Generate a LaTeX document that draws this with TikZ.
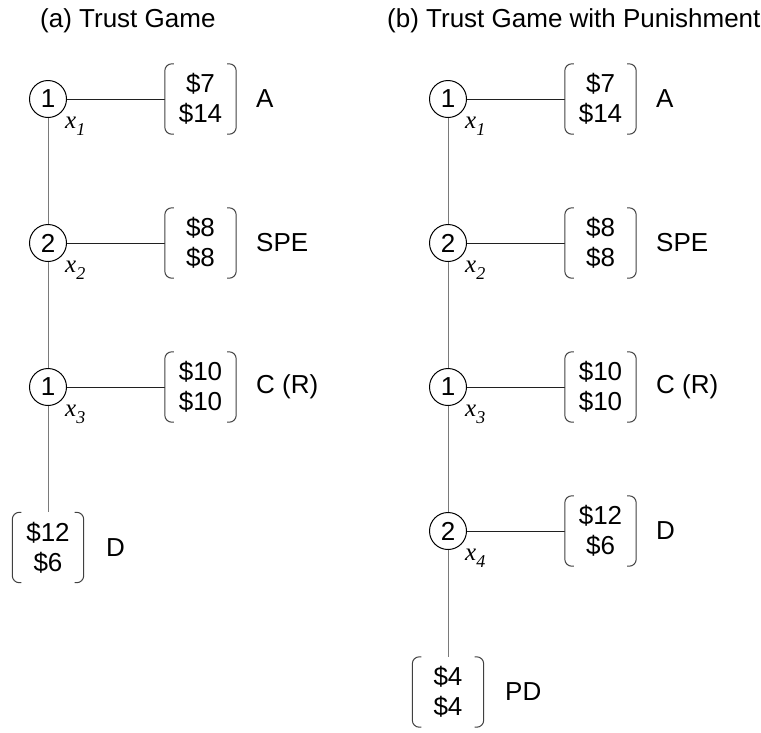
\documentclass[tikz,border=0pt]{standalone}
\usepackage{fontspec}
\setmainfont{Liberation Sans}
\newfontfamily\tnrfont{Liberation Serif}
\usetikzlibrary{calc}
\definecolor{vlinec}{HTML}{7A7A7A}
\definecolor{hlinec}{HTML}{202020}
\definecolor{brackc}{HTML}{404040}
\newcommand{\bigfont}{\fontsize{26}{30}\selectfont}
\newcommand{\xlab}[1]{{\tnrfont\itshape\fontsize{25}{25}\selectfont x\raisebox{-7pt}{\fontsize{18}{18}\selectfont #1}}}
\tikzset{
  dec/.style={circle, draw=black, line width=1pt, minimum size=37pt, inner sep=0pt, font=\bigfont},
  payoff/.style={rectangle, minimum width=71pt, minimum height=70pt, inner sep=0pt, align=center, font=\bigfont},
  outlab/.style={anchor=west, inner sep=0pt, font=\bigfont},
  xl/.style={anchor=base west, inner sep=0pt},
  vline/.style={draw=vlinec, line width=1pt},
  hline/.style={draw=hlinec, line width=1pt},
  brack/.style={draw=brackc, line width=1pt, rounded corners=7pt},
  title/.style={anchor=west, inner sep=0pt, font=\bigfont}
}
\begin{document}
\begin{tikzpicture}[x=1pt, y=-1pt]
\useasboundingbox (0,0) rectangle (761,732);
% titles
\node[title] (ta) at (40,21) {(a) Trust Game};
\node[title] (tb) at (387,21) {(b) Trust Game with Punishment};
% ---- left tree
\node[dec] (a1) at (48,99) {1};
\node[dec] (a2) at (48,243) {2};
\node[dec] (a3) at (48,387) {1};
\node[payoff] (pa1) at (200.5,99) {\$7\\\$14};
\node[payoff] (pa2) at (200.5,243) {\$8\\\$8};
\node[payoff] (pa3) at (200.5,387) {\$10\\\$10};
\node[payoff] (pa4) at (48,547.5) {\$12\\\$6};
\node[outlab] (la1) at (256,99) {A};
\node[outlab] (la2) at (256,243) {SPE};
\node[outlab] (la3) at (256,387) {C (R)};
\node[outlab] (la4) at (106,547.5) {D};
\node[xl] (xa1) at (65,128) {\xlab{1}};
\node[xl] (xa2) at (65,272) {\xlab{2}};
\node[xl] (xa3) at (65,416) {\xlab{3}};
\draw[vline] (a1) -- (a2);
\draw[vline] (a2) -- (a3);
\draw[vline] (a3) -- (pa4.north);
\draw[hline] (a1) -- (pa1.west);
\draw[hline] (a2) -- (pa2.west);
\draw[hline] (a3) -- (pa3.west);
% ---- right tree
\node[dec] (b1) at (448,99) {1};
\node[dec] (b2) at (448,243) {2};
\node[dec] (b3) at (448,387) {1};
\node[dec] (b4) at (448,531) {2};
\node[payoff] (pb1) at (600.5,99) {\$7\\\$14};
\node[payoff] (pb2) at (600.5,243) {\$8\\\$8};
\node[payoff] (pb3) at (600.5,387) {\$10\\\$10};
\node[payoff] (pb4) at (600.5,531) {\$12\\\$6};
\node[payoff] (pb5) at (448,692) {\$4\\\$4};
\node[outlab] (lb1) at (656,99) {A};
\node[outlab] (lb2) at (656,243) {SPE};
\node[outlab] (lb3) at (656,387) {C (R)};
\node[outlab] (lb4) at (656,531) {D};
\node[outlab] (lb5) at (505,692) {PD};
\node[xl] (xb1) at (465,128) {\xlab{1}};
\node[xl] (xb2) at (465,272) {\xlab{2}};
\node[xl] (xb3) at (465,416) {\xlab{3}};
\node[xl] (xb4) at (465,560) {\xlab{4}};
\draw[vline] (b1) -- (b2);
\draw[vline] (b2) -- (b3);
\draw[vline] (b3) -- (b4);
\draw[vline] (b4) -- (pb5.north);
\draw[hline] (b1) -- (pb1.west);
\draw[hline] (b2) -- (pb2.west);
\draw[hline] (b3) -- (pb3.west);
\draw[hline] (b4) -- (pb4.west);
% brackets
\foreach \n in {pa1,pa2,pa3,pa4,pb1,pb2,pb3,pb4,pb5} {
  \draw[brack] ([xshift=9pt]\n.north west) -- (\n.north west) -- (\n.south west) -- ([xshift=9pt]\n.south west);
  \draw[brack] ([xshift=-9pt]\n.north east) -- (\n.north east) -- (\n.south east) -- ([xshift=-9pt]\n.south east);
}
\end{tikzpicture}
\end{document}
